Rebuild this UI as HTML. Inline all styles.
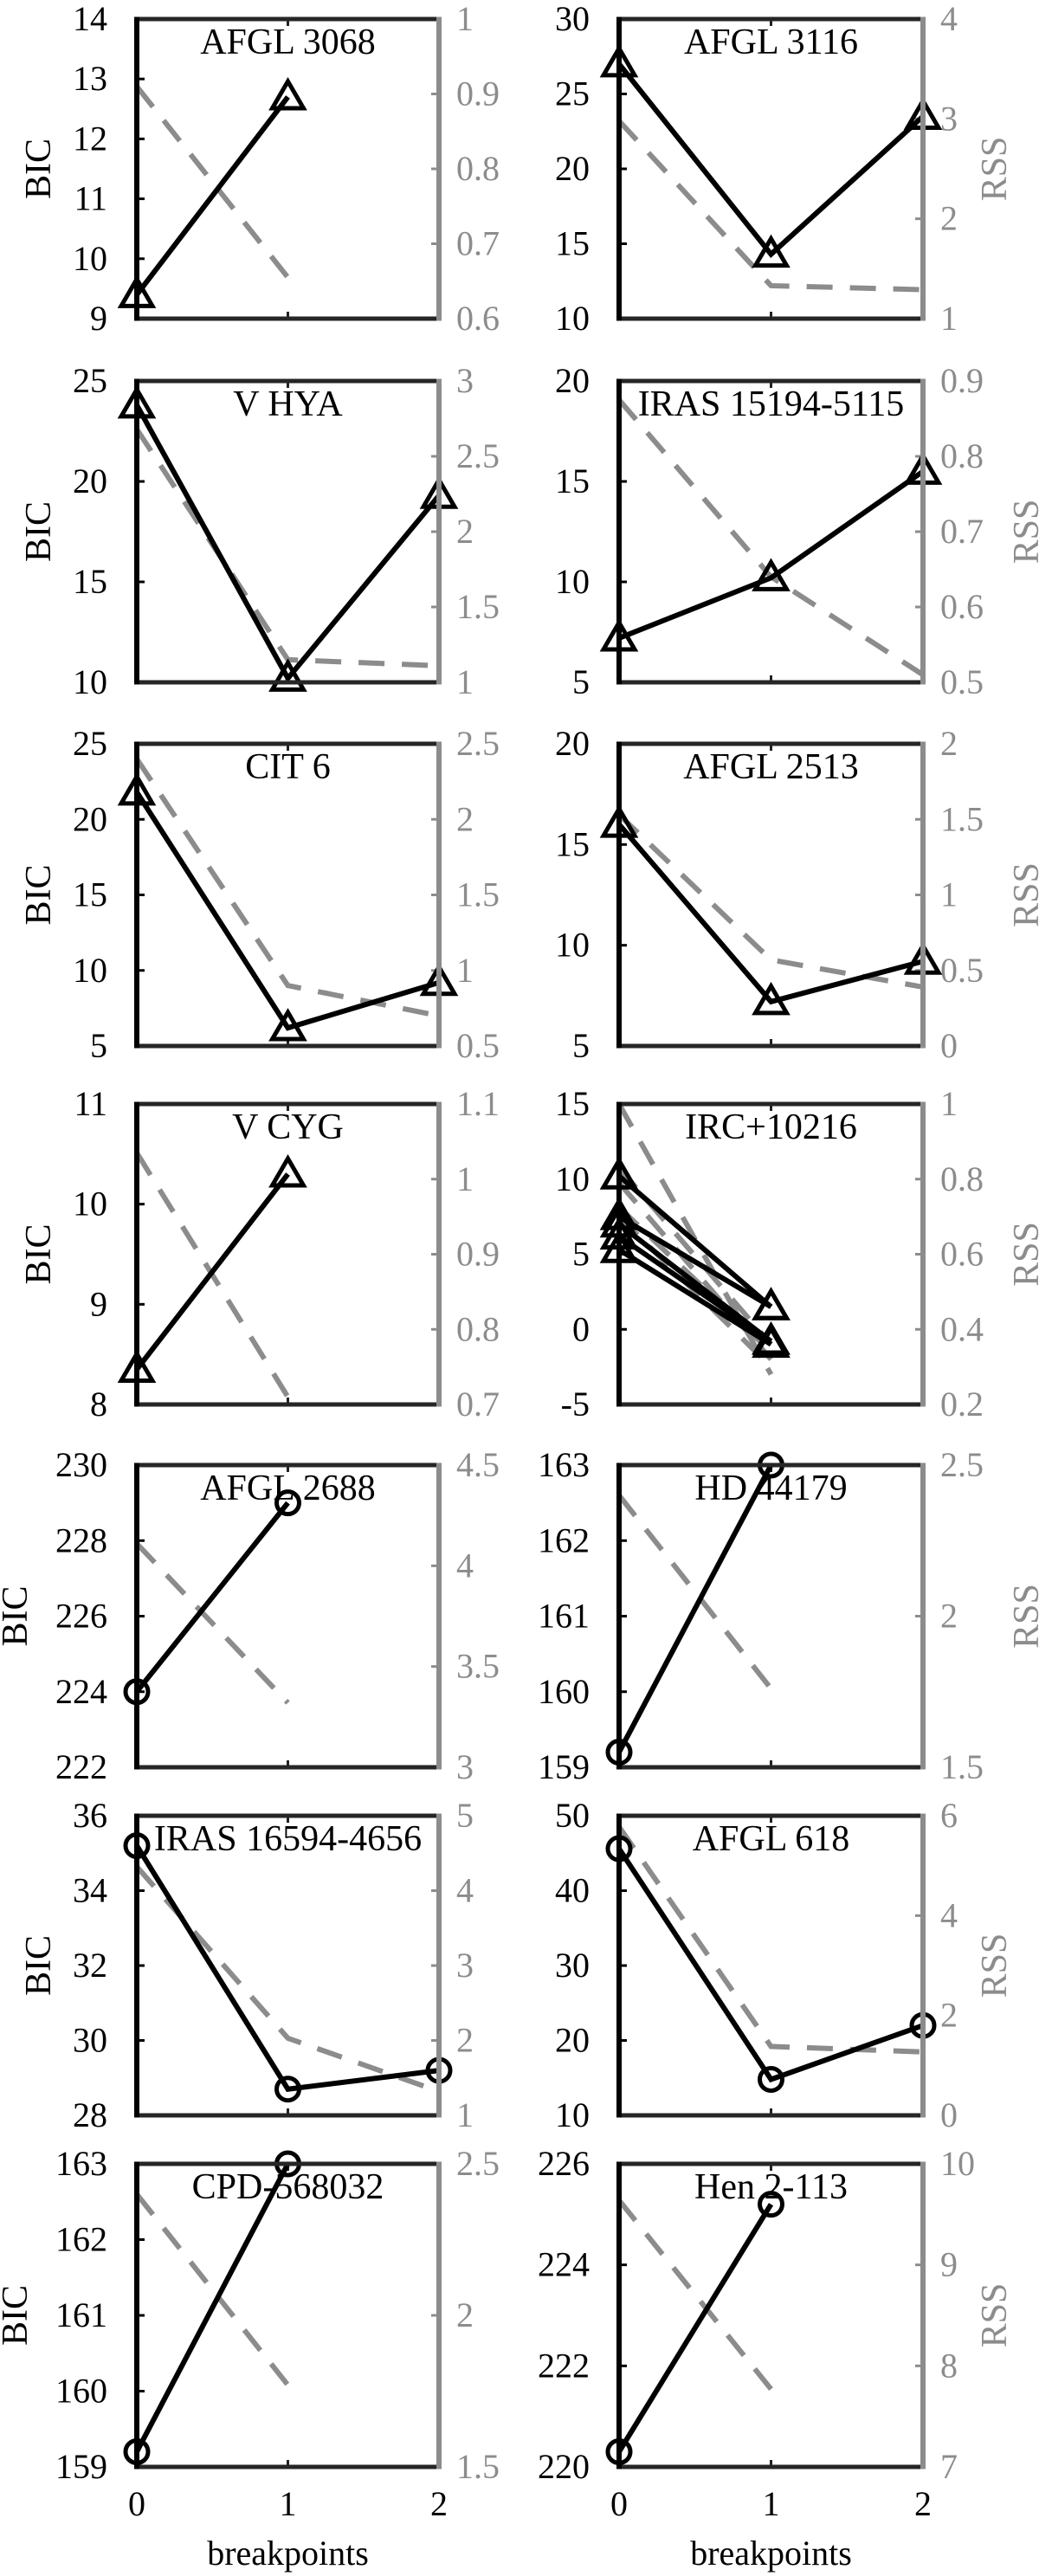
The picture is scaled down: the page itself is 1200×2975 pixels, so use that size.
<!DOCTYPE html>
<html><head><meta charset="utf-8"><style>
html,body{margin:0;padding:0;background:#fff;}
svg{display:block;}
svg text{font-family:"Liberation Serif","DejaVu Serif",serif;}
</style></head><body>
<svg id="fig" width="1200" height="2975" viewBox="0 0 1200 2975" xmlns="http://www.w3.org/2000/svg" font-family="Liberation Serif, serif"></svg>
<script>
// ---- data ----
const panelTitles = ["AFGL 3068","AFGL 3116","V HYA","IRAS 15194-5115","CIT 6","AFGL 2513","V CYG","IRC+10216","AFGL 2688","HD 44179","IRAS 16594-4656","AFGL 618","CPD-568032","Hen 2-113"];
const bicRanges = [[9,14],[10,30],[10,25],[5,20],[5,25],[5,20],[8,11],[-5,15],[222,230],[159,163],[28,36],[10,50],[159,163],[220,226]];
const bicTicks = [[9,10,11,12,13,14],[10,15,20,25,30],[10,15,20,25],[5,10,15,20],[5,10,15,20,25],[5,10,15,20],[8,9,10,11],[-5,0,5,10,15],[222,224,226,228,230],[159,160,161,162,163],[28,30,32,34,36],[10,20,30,40,50],[159,160,161,162,163],[220,222,224,226]];
const rssRanges = [[0.6,1],[1,4],[1,3],[0.5,0.9],[0.5,2.5],[0,2],[0.7,1.1],[0.2,1],[3,4.5],[1.5,2.5],[1,5],[0,6],[1.5,2.5],[7,10]];
const rssTickLabels = [["0.6","0.7","0.8","0.9","1"],["1","2","3","4"],["1","1.5","2","2.5","3"],["0.5","0.6","0.7","0.8","0.9"],["0.5","1","1.5","2","2.5"],["0","0.5","1","1.5","2"],["0.7","0.8","0.9","1","1.1"],["0.2","0.4","0.6","0.8","1"],["3","3.5","4","4.5"],["1.5","2","2.5"],["1","2","3","4","5"],["0","2","4","6"],["1.5","2","2.5"],["7","8","9","10"]];
// BIC series (one or more per panel); values at breakpoints 0,1,2
const bicSeries = [
  [[9.4,12.7]],
  [[27.0,14.3,23.5]],
  [[23.8,10.2,19.3]],
  [[7.2,10.2,15.5]],
  [[21.8,6.2,9.2]],
  [[16.0,7.2,9.2]],
  [[8.35,10.3]],
  [[10.2,1.5],[7.5,1.5],[7.0,-0.8],[6.2,-0.8],[5.3,-1.0]],
  [[224.0,229.0]],
  [[159.2,163.0]],
  [[35.2,28.7,29.2]],
  [[45.6,14.8,22.0]],
  [[159.2,163.0]],
  [[220.3,225.2]]
];
const rssSeries = [
  [[0.91,0.655]],
  [[2.98,1.33,1.29]],
  [[2.68,1.15,1.11]],
  [[0.875,0.64,0.51]],
  [[2.4,0.9,0.7]],
  [[1.53,0.57,0.39]],
  [[1.035,0.71]],
  [[1.0,0.28],[0.83,0.36],[0.79,0.32],[0.725,0.34],[0.7,0.3]],
  [[4.11,3.32]],
  [[2.4,1.76]],
  [[4.32,2.03,1.32]],
  [[5.78,1.38,1.27]],
  [[2.4,1.77]],
  [[9.64,7.77]]
];
const xTickLabels = ["0","1","2"];

// ---- layout ----
const colLeft=[158,715], colRight=[507,1066];
const rowTop=[22,440,859,1275,1692,2097,2499], rowBot=[368,788,1208,1622,2041,2443,2849];
const bicLabelX=[44,44,44,44,17,44,17];
const rssLabelX=[1148,1185,1185,1185,1185,1148,1148];
const GRAY="#8c8c8c";
const FONT='"Liberation Serif", "DejaVu Serif", serif';
const svg=document.getElementById('fig');
const NS="http://www.w3.org/2000/svg";
function mk(tag,attrs,parent){const e=document.createElementNS(NS,tag);for(const k in attrs)e.setAttribute(k,attrs[k]);if(tag==='text')e.setAttribute('font-family',FONT);(parent||svg).appendChild(e);return e;}

panelTitles.forEach((title,i)=>{
  const r=Math.floor(i/2), c=i%2;
  const L=colLeft[c], R=colRight[c], T=rowTop[r], B=rowBot[r];
  const g=mk('g',{});
  
  
  const xs=v=>L+(R-L)*v/2;
  const [b0,b1]=bicRanges[i], [r0,r1]=rssRanges[i];
  const yb=v=>B-(v-b0)/(b1-b0)*(B-T);
  const yr=v=>B-(v-r0)/(r1-r0)*(B-T);
  [0,1,2].forEach(k=>{
    mk('line',{x1:xs(k),x2:xs(k),y1:B,y2:B-8,stroke:'#222','stroke-width':3},g);
    mk('line',{x1:xs(k),x2:xs(k),y1:T,y2:T+8,stroke:'#222','stroke-width':3},g);
  });
  bicTicks[i].forEach(v=>{
    mk('line',{x1:L,x2:L+9,y1:yb(v),y2:yb(v),stroke:'#000','stroke-width':3},g);
    const t=mk('text',{x:L-34,y:yb(v)+13,'text-anchor':'end','font-size':40,fill:'#000'},g);
    t.textContent=v;
    
    
  });
  rssTickLabels[i].forEach(s=>{
    const v=parseFloat(s);
    mk('line',{x1:R,x2:R-9,y1:yr(v),y2:yr(v),stroke:GRAY,'stroke-width':3},g);
    const t=mk('text',{x:R+20,y:yr(v)+13,'font-size':40,fill:GRAY},g);
    t.textContent=s;
    
    
  });
  rssSeries[i].forEach(s=>{
    const p=mk('polyline',{points:s.map((v,k)=>xs(k)+','+yr(v)).join(' '),fill:'none',stroke:GRAY,'stroke-width':6,'stroke-dasharray':'30 20'},g);
    
    
  });
  const circ = r>=4;
  bicSeries[i].forEach(s=>{
    const p=mk('polyline',{points:s.map((v,k)=>xs(k)+','+yb(v)).join(' '),fill:'none',stroke:'#000','stroke-width':6,'stroke-linejoin':'miter'},g);
    
    
    s.forEach((v,k)=>{
      const x=xs(k), y=yb(v); let m;
      if(circ) m=mk('circle',{cx:x,cy:y,r:13,fill:'none',stroke:'#000','stroke-width':5},g);
      else m=mk('polygon',{points:`${x},${y-18} ${x+18},${y+13} ${x-18},${y+13}`,fill:'none',stroke:'#000','stroke-width':5,'stroke-linejoin':'miter'},g);
      
      
    });
  });
  mk('line',{x1:L,x2:R,y1:T,y2:T,stroke:'#262626','stroke-width':5},g);
  mk('line',{x1:L,x2:R,y1:B,y2:B,stroke:'#262626','stroke-width':5},g);
  mk('line',{x1:R,x2:R,y1:T-2.5,y2:B+2.5,stroke:GRAY,'stroke-width':6},g);
  mk('line',{x1:L,x2:L,y1:T-2.5,y2:B+2.5,stroke:'#000','stroke-width':6},g);
  const tt=mk('text',{x:(L+R)/2,y:T+40,'text-anchor':'middle','font-size':42,fill:'#000'},g);
  tt.textContent=title;
  
  
  const cy=(T+B)/2;
  if(c===0){
    const a=mk('text',{x:bicLabelX[r]+14,y:cy,'text-anchor':'middle','font-size':42,fill:'#000',transform:`rotate(-90 ${bicLabelX[r]+14} ${cy})`},g);
    a.textContent='BIC';
    
    
  } else {
    const a=mk('text',{x:rssLabelX[r]+14,y:cy,'text-anchor':'middle','font-size':42,fill:GRAY,transform:`rotate(-90 ${rssLabelX[r]+14} ${cy})`},g);
    a.textContent='RSS';
    
    
  }
  if(r===6){
    xTickLabels.forEach((s,k)=>{
      const t=mk('text',{x:xs(k),y:2905,'text-anchor':'middle','font-size':40,fill:'#000'},g);
      t.textContent=s;
      
      
    });
    const xl=mk('text',{x:(L+R)/2,y:2962,'text-anchor':'middle','font-size':40,fill:'#000'},g);
    xl.textContent='breakpoints';
    
    
  }
});
</script>
</body></html>
